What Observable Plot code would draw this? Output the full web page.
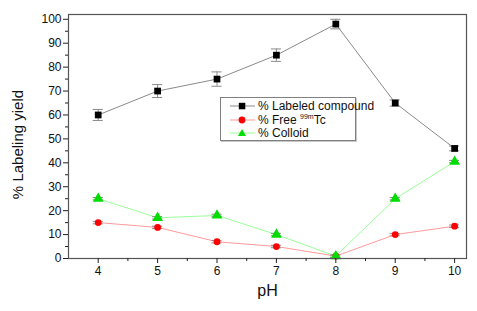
<!DOCTYPE html>
<html>
<head>
<meta charset="utf-8">
<script src="https://cdn.jsdelivr.net/npm/d3@7"></script>
<script src="https://cdn.jsdelivr.net/npm/@observablehq/plot@0.6"></script>
<style>
  body { margin: 0; background: #fff; font-family: "Liberation Sans", Arial, sans-serif; }
  #wrap { position: relative; width: 477px; height: 311px; }
  #legend { position: absolute; left: 220px; top: 97px; width: 136px; height: 44px; box-sizing: border-box;
            border: 1px solid #808080; background: #fff; box-shadow: 1px 1px 0 #c8c8c8; font-size: 12px; color: #111; }
  .row { position: absolute; left: 0; height: 14px; display: flex; align-items: center; }
  .row svg { display: block; }
  .row span { margin-left: 3px; white-space: nowrap; }
  sup { font-size: 7px; vertical-align: 5px; }
</style>
</head>
<body>
<div id="wrap">
  <div id="chart"></div>
  <div id="legend"></div>
</div>
<script>
const phValues = [4, 5, 6, 7, 8, 9, 10];
const labeled = [60, 70, 75, 85, 98, 65, 46];
const labeledErr = [2.3, 2.7, 3, 2.6, 2, 1.3, 1];
const freeTc = [15, 13, 7, 5, 1, 10, 13.5];
const freeErr = [0.5, 0.5, 0.5, 0.5, 0.5, 0.5, 0.5];
const colloid = [25, 17, 18, 10, 1, 25, 40.5];
const colloidErr = [0.5, 0.5, 0.5, 0.5, 0.5, 0.5, 0.5];
const seriesNames = ["% Labeled compound", "% Free 99mTc", "% Colloid"];
const yMajorTicks = [0, 10, 20, 30, 40, 50, 60, 70, 80, 90, 100];
const yMinorTicks = [5, 15, 25, 35, 45, 55, 65, 75, 85, 95];
const xMajorTicks = [4, 5, 6, 7, 8, 9, 10];
const xMinorTicks = [4.5, 5.5, 6.5, 7.5, 8.5, 9.5];

const styles = [
  {symbol: "square", fill: "#000000", line: "#8a8a8a", err: "#8a8a8a", r: 3.8},
  {symbol: "circle", fill: "#ff0000", line: "#ff9a9a", err: "#8a8a8a", r: 3.4},
  {symbol: "triangle", fill: "#00dd00", line: "#9aff9a", err: "#8a8a8a", r: 4}
];
const vals = [labeled, freeTc, colloid];
const errs = [labeledErr, freeErr, colloidErr];

const capHalf = 0.085;
const marks = [];
vals.forEach((vs, k) => {
  const data = phValues.map((ph, i) => ({ph, v: vs[i], e: errs[k][i]}));
  const s = styles[k];
  marks.push(Plot.line(data, {x: "ph", y: "v", stroke: s.line, strokeWidth: 1}));
  marks.push(Plot.ruleX(data, {x: "ph", y1: d => d.v - d.e, y2: d => d.v + d.e, stroke: s.err, strokeWidth: 1}));
  marks.push(Plot.ruleY(data, {y: d => d.v + d.e, x1: d => d.ph - capHalf, x2: d => d.ph + capHalf, stroke: s.err, strokeWidth: 1}));
  marks.push(Plot.ruleY(data, {y: d => d.v - d.e, x1: d => d.ph - capHalf, x2: d => d.ph + capHalf, stroke: s.err, strokeWidth: 1}));
});
vals.forEach((vs, k) => {
  const data = phValues.map((ph, i) => ({ph, v: vs[i]}));
  const s = styles[k];
  marks.push(Plot.dot(data, {x: "ph", y: "v", symbol: () => s.symbol, fill: s.fill, stroke: "none", r: s.r}));
});

const chart = Plot.plot({
  width: 477,
  height: 311,
  marginLeft: 68,
  marginRight: 11,
  marginTop: 14,
  marginBottom: 53,
  style: {fontFamily: "'Liberation Sans', Arial, sans-serif", background: "#fff", color: "#111"},
  x: {domain: [3.5, 10.2]},
  y: {domain: [0, 102]},
  symbol: {type: "identity"},
  marks: [
    ...marks,
    Plot.frame({stroke: "#555", strokeWidth: 1.2}),
    Plot.axisY({ticks: yMajorTicks, tickSize: 5, tickPadding: 2, fontSize: 12, tickFormat: d => String(d), label: null, stroke: "#222"}),
    Plot.axisY({ticks: yMinorTicks, tickSize: 3, tickFormat: () => "", label: null, stroke: "#222"}),
    Plot.axisX({ticks: xMajorTicks, tickSize: 5, tickPadding: 3, fontSize: 12, tickFormat: d => String(d), label: null, stroke: "#222"}),
    Plot.axisX({ticks: xMinorTicks, tickSize: 3, tickFormat: () => "", label: null, stroke: "#222"}),
    Plot.text(["pH"], {frameAnchor: "bottom", dy: 32, fontSize: 16, lineAnchor: "middle", fill: "#111"}),
    Plot.text(["% Labeling yield"], {frameAnchor: "left", dx: -50, dy: 8, rotate: -90, fontSize: 15, lineAnchor: "middle", textAnchor: "middle", fill: "#111"})
  ]
});
document.getElementById("chart").appendChild(chart);

// Legend
const legend = document.getElementById("legend");
const symbolPaths = {
  square: '<rect x="8.8" y="3.8" width="6.5" height="6.5"/>',
  circle: '<circle cx="12" cy="7" r="3.4"/>',
  triangle: '<path d="M12,3 L16,10 L8,10 Z"/>'
};
const rowTops = [1, 15, 28];
seriesNames.forEach((name, k) => {
  const s = styles[k];
  const row = document.createElement("div");
  row.className = "row";
  row.style.top = rowTops[k] + "px";
  row.style.left = "9px";
  const label = name.includes("99m")
    ? '% Free <sup>99m</sup>Tc'
    : name;
  row.innerHTML = `<svg width="25" height="14"><line x1="0" x2="25" y1="7" y2="7" stroke="${s.line}" stroke-width="1"/><g fill="${s.fill}">${symbolPaths[s.symbol]}</g></svg><span>${label}</span>`;
  legend.appendChild(row);
});
</script>
</body>
</html>
